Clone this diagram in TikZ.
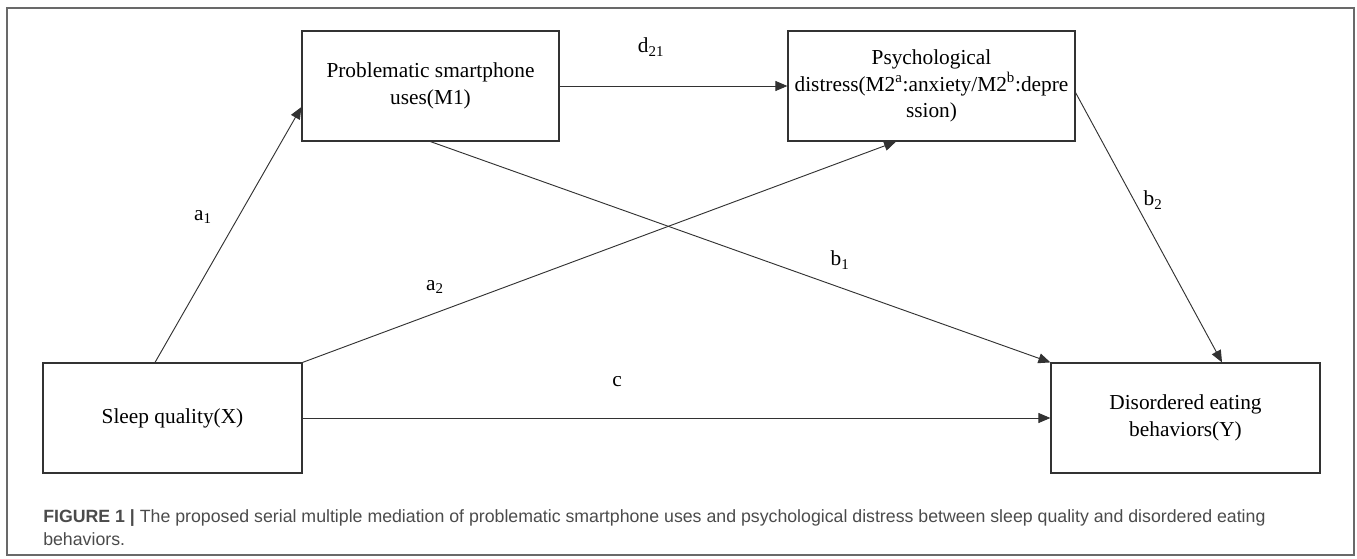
\documentclass[tikz,border=0pt]{standalone}
\usepackage{fontspec}
\setmainfont{Liberation Serif}
\newfontfamily\capfont{Liberation Sans}
\usetikzlibrary{arrows.meta}
\definecolor{frameGray}{RGB}{105,105,105}
\definecolor{lineGray}{RGB}{50,50,50}
\definecolor{capText}{RGB}{75,75,75}

\begin{document}
\begin{tikzpicture}[x=0.75pt,y=-0.75pt]
	\tikzstyle{varbox} = [rectangle, minimum height=82.5pt, inner sep=0pt, 
	align=center, draw=lineGray, line width=0.9pt, font=\fontsize{16}{20}\selectfont]
	\tikzstyle{coef} = [font=\fontsize{16}{20}\selectfont]
	\tikzstyle{arrow} = [line width=0.7pt, draw=lineGray, -{Triangle[length=9pt,width=7.5pt]}]
	\useasboundingbox (0,0) rectangle (1357,558);
	\draw [frameGray, line width=1.1pt] (7,8) rectangle (1354,555);
	\node (sleepQuality) [varbox, minimum width=194.25pt] at (172.5,418) {Sleep quality(X)};
	\node (phoneUse) [varbox, minimum width=192.75pt] at (430.5,86) {Problematic smartphone\\uses(M1)};
	\node (distress) [varbox, minimum width=215.25pt] at (931.5,86) {Psychological\\distress(M2\textsuperscript{a}:anxiety/M2\textsuperscript{b}:depre\\ssion)};
	\node (eating) [varbox, minimum width=201.75pt] at (1185.5,418) {Disordered eating\\behaviors(Y)};
	\node (a1) [coef] at (203,217) {a\textsubscript{1}};
	\node (a2) [coef] at (435,287) {a\textsubscript{2}};
	\node (b1) [coef] at (840,260) {b\textsubscript{1}};
	\node (b2) [coef] at (1153,200) {b\textsubscript{2}};
	\node (c) [coef] at (617,382) {c};
	\node (d21) [coef] at (651,47) {d\textsubscript{21}};
	\node (caption) [anchor=north west, align=left, inner sep=0pt, text=capText, 
	font=\capfont\fontsize{13.3}{17.5}\selectfont] at (43,509) {\textbf{FIGURE 1 |} The proposed serial multiple mediation of problematic smartphone uses and psychological distress between sleep quality and disordered eating\\behaviors.};
	\draw [arrow] ([xshift=-13.1pt]sleepQuality.north) -- ([yshift=-15.75pt]phoneUse.west);
	\draw [arrow] (sleepQuality.north east) -- ([xshift=-26.6pt]distress.south);
	\draw [arrow] (sleepQuality.east) -- (eating.west);
	\draw [arrow] (phoneUse.east) -- (distress.west);
	\draw [arrow] (phoneUse.south) -- (eating.north west);
	\draw [arrow] ([yshift=-5pt]distress.east) -- ([xshift=27.4pt]eating.north);
\end{tikzpicture}
\end{document}
